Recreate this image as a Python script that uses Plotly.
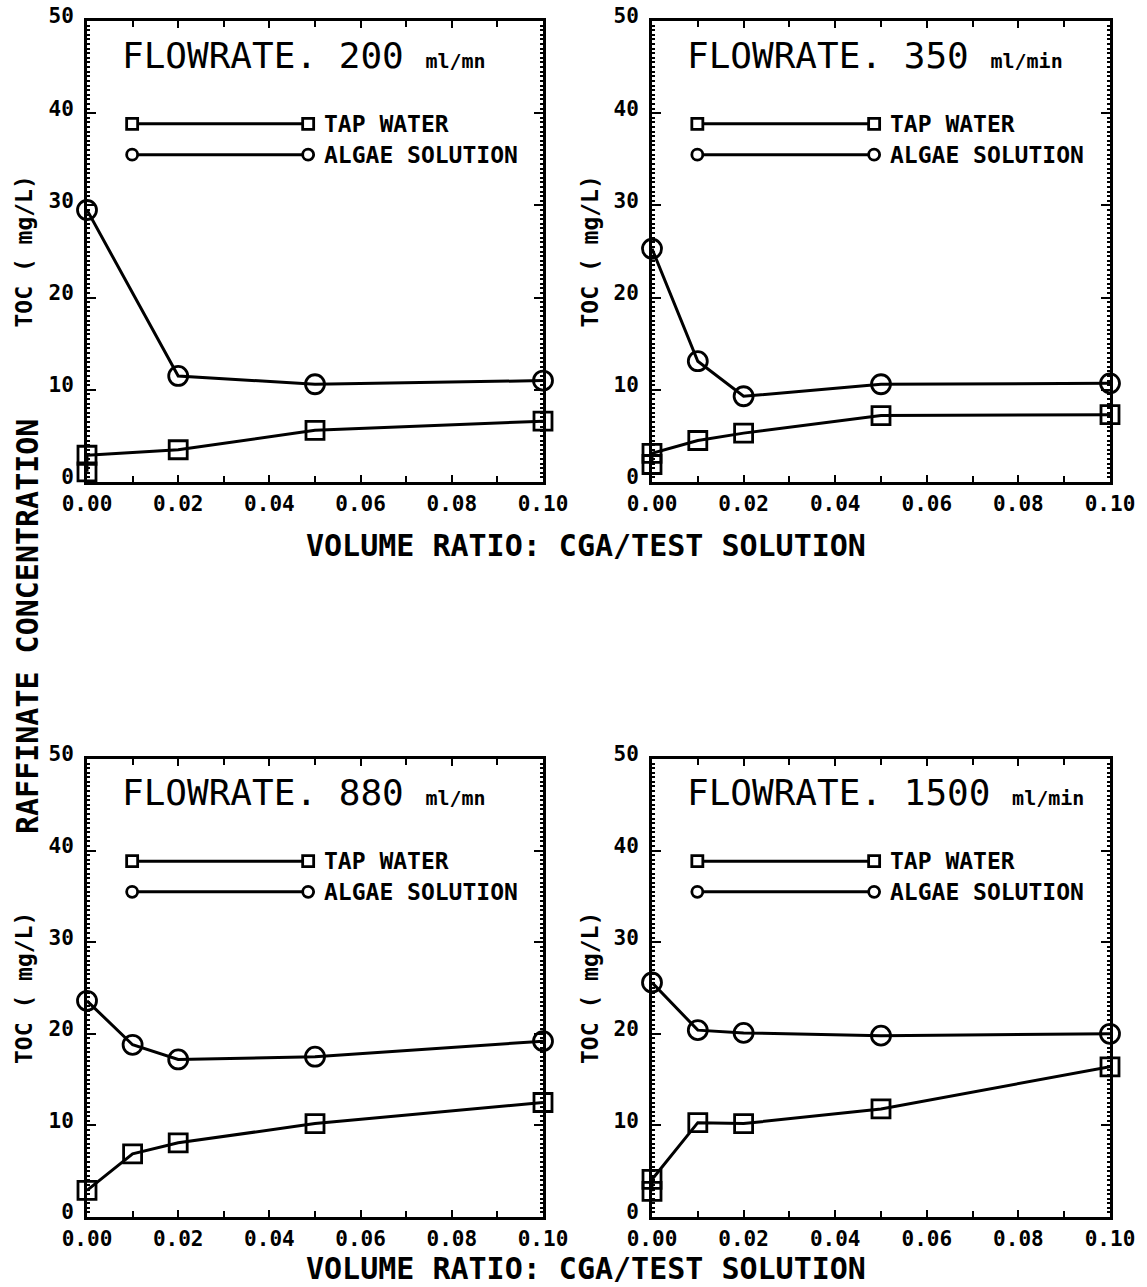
import plotly.graph_objects as go

# ---------------- data ----------------
FLOWRATES = ["200", "350", "880", "1500"]
UNITS = ["ml/mn", "ml/min", "ml/mn", "ml/min"]
SERIES_NAMES = ["TAP WATER", "ALGAE SOLUTION"]

x_tap_200 = [0, 0, 0.02, 0.05, 0.10]
tap_200 = [1.1, 2.9, 3.5, 5.6, 6.6]
x_alg_200 = [0, 0.02, 0.05, 0.10]
alg_200 = [29.5, 11.5, 10.6, 11.0]

x_tap_350 = [0, 0, 0.01, 0.02, 0.05, 0.10]
tap_350 = [1.9, 3.1, 4.5, 5.3, 7.2, 7.3]
x_alg_350 = [0, 0.01, 0.02, 0.05, 0.10]
alg_350 = [25.3, 13.1, 9.3, 10.6, 10.7]

x_tap_880 = [0, 0.01, 0.02, 0.05, 0.10]
tap_880 = [2.9, 6.9, 8.1, 10.2, 12.5]
x_alg_880 = [0, 0.01, 0.02, 0.05, 0.10]
alg_880 = [23.6, 18.8, 17.2, 17.5, 19.2]

x_tap_1500 = [0, 0, 0.01, 0.02, 0.05, 0.10]
tap_1500 = [2.8, 4.1, 10.3, 10.2, 11.8, 16.4]
x_alg_1500 = [0, 0.01, 0.02, 0.05, 0.10]
alg_1500 = [25.6, 20.4, 20.1, 19.8, 20.0]

X_TICKS = [0.0, 0.02, 0.04, 0.06, 0.08, 0.10]
Y_TICKS = [0, 10, 20, 30, 40, 50]

X_TITLE_TOP = "VOLUME RATIO: CGA/TEST SOLUTION"
X_TITLE_BOTTOM = "VOLUME RATIO: CGA/TEST SOLUTION"
Y_TITLE = "TOC ( mg/L)"
SUPER_Y_TITLE = "RAFFINATE CONCENTRATION"

panels = [
    (x_tap_200, tap_200, x_alg_200, alg_200),
    (x_tap_350, tap_350, x_alg_350, alg_350),
    (x_tap_880, tap_880, x_alg_880, alg_880),
    (x_tap_1500, tap_1500, x_alg_1500, alg_1500),
]

# ---------------- layout geometry ----------------
W, H = 1147, 1287
XDOM = [[87 / W, 543 / W], [652 / W, 1110 / W]]
YDOM = [[1 - 482 / H, 1 - 21 / H], [1 - 1217 / H, 1 - 759 / H]]

BOLD = "DejaVu Sans Mono"
fig = go.Figure()

axis_common = dict(
    showline=True, linecolor="black", linewidth=3, mirror="ticks",
    ticks="inside", tickcolor="black", tickwidth=2,
    showgrid=False, zeroline=False, automargin=False, fixedrange=True,
    tickfont=dict(family=BOLD, size=21, color="black", weight="bold"),
)

shapes = []
annotations = []

for i, (xt, yt, xa, ya) in enumerate(panels):
    col = i % 2
    row = i // 2
    n = "" if i == 0 else str(i + 1)
    xref = "x" + n
    yref = "y" + n

    fig.add_trace(go.Scatter(
        x=xt, y=yt, mode="lines+markers", xaxis=xref, yaxis=yref,
        line=dict(color="black", width=3),
        marker=dict(symbol="square-open", size=18, color="black", line=dict(width=2.8)),
        cliponaxis=False, showlegend=False, name=SERIES_NAMES[0]))
    fig.add_trace(go.Scatter(
        x=xa, y=ya, mode="lines+markers", xaxis=xref, yaxis=yref,
        line=dict(color="black", width=3),
        marker=dict(symbol="circle-open", size=19, color="black", line=dict(width=2.8)),
        cliponaxis=False, showlegend=False, name=SERIES_NAMES[1]))

    fig.layout["xaxis" + n] = dict(
        axis_common, domain=XDOM[col], anchor=yref, range=[0, 0.10],
        tickvals=X_TICKS, ticktext=[f"{v:.2f}" for v in X_TICKS], ticklen=7,
        ticklabelstandoff=1,
        minor=dict(dtick=0.01, tick0=0, ticks="inside", ticklen=6, tickwidth=2, tickcolor="black"),
    )
    fig.layout["yaxis" + n] = dict(
        axis_common, domain=YDOM[row], anchor=xref, range=[0, 50],
        tickvals=Y_TICKS, ticklen=9, ticklabelstandoff=6, ticklabelshift=-5,
        minor=dict(dtick=0.5, tick0=0, ticks="inside", ticklen=3, tickwidth=2, tickcolor="black"),
    )

    xd = xref + " domain"
    yd = yref + " domain"

    # panel title
    annotations.append(dict(
        xref=xd, yref=yd, x=0.072, y=0.926, xanchor="left", yanchor="middle",
        showarrow=False,
        text=f"FLOWRATE. {FLOWRATES[i]} <span style='font-size:20px;font-weight:bold'>{UNITS[i]}</span>",
        font=dict(family="DejaVu Sans Mono", size=36, color="black"),
    ))

    # legend keys
    for k, (ly, sym) in enumerate([(0.777, "rect"), (0.710, "circle")]):
        shapes.append(dict(type="line", xref=xd, yref=yd, x0=0.099, x1=0.485, y0=ly, y1=ly,
                           line=dict(color="black", width=3)))
        for lx in (0.099, 0.485):
            shapes.append(dict(type=sym, xref=xd, yref=yd, xsizemode="pixel", ysizemode="pixel",
                               xanchor=lx, yanchor=ly, x0=-5.5, x1=5.5, y0=-5.5, y1=5.5,
                               line=dict(color="black", width=2.8), fillcolor="white"))
        annotations.append(dict(
            xref=xd, yref=yd, x=0.515, y=ly, xanchor="left", yanchor="middle",
            showarrow=False, text=SERIES_NAMES[k],
            font=dict(family=BOLD, size=23, color="black", weight="bold"),
        ))

    # y-axis title
    ymid = (YDOM[row][0] + YDOM[row][1]) / 2
    annotations.append(dict(
        xref="paper", yref="paper", x=(24 if col == 0 else 590) / W, y=ymid,
        xanchor="center", yanchor="middle", textangle=-90, showarrow=False,
        text=Y_TITLE, font=dict(family=BOLD, size=23, color="black", weight="bold"),
    ))

# x titles
annotations.append(dict(xref="paper", yref="paper", x=586 / W, y=1 - 545 / H,
                        xanchor="center", yanchor="middle", showarrow=False, text=X_TITLE_TOP,
                        font=dict(family=BOLD, size=30, color="black", weight="bold")))
annotations.append(dict(xref="paper", yref="paper", x=586 / W, y=1 - 1268 / H,
                        xanchor="center", yanchor="middle", showarrow=False, text=X_TITLE_BOTTOM,
                        font=dict(family=BOLD, size=30, color="black", weight="bold")))
# super y title
annotations.append(dict(xref="paper", yref="paper", x=27 / W, y=1 - 627 / H,
                        xanchor="center", yanchor="middle", textangle=-90, showarrow=False,
                        text=SUPER_Y_TITLE,
                        font=dict(family=BOLD, size=30, color="black", weight="bold")))

fig.update_layout(
    width=W, height=H, autosize=False,
    margin=dict(l=0, r=0, t=0, b=0),
    paper_bgcolor="white", plot_bgcolor="white",
    shapes=shapes, annotations=annotations, showlegend=False,
)

fig.write_html("out.html", config={"displayModeBar": False},
               post_script="document.body.style.margin='0';document.body.style.padding='0';")
